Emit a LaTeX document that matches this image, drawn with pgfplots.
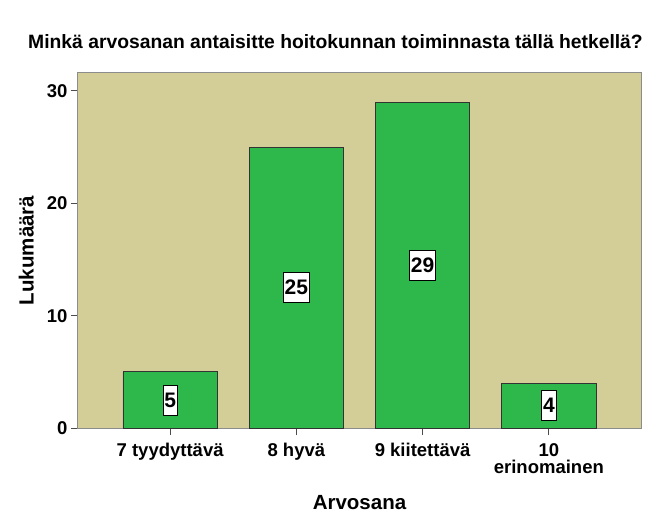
\documentclass[border=0pt]{standalone}
\usepackage{fontspec}
\setmainfont{Liberation Sans}
\usepackage{pgfplots}
\usepackage{pgfplotstable}
\pgfplotsset{compat=1.18}
\definecolor{bgtan}{RGB}{211,206,152}
\definecolor{bargreen}{RGB}{46,183,74}
\definecolor{framegray}{RGB}{140,140,140}

\pgfplotstableread{
x y
0 5
1 25
2 29
3 4
}\grades

\begin{document}
\begin{tikzpicture}
\begin{axis}[name=ax, scale only axis, width=563bp, height=355bp,
  xmin=-0.73, xmax=3.73, ymin=0, ymax=31.6,
  axis background/.style={fill=bgtan},
  axis line style={framegray, line width=1bp},
  xtick={0,1,2,3},
  xticklabels={7 tyydyttävä, 8 hyvä, 9 kiitettävä, {10\\erinomainen}},
  ytick={0,10,20,30},
  tick align=outside, tickpos=left, major tick length=7bp,
  tick style={black!70, line width=1bp},
  /pgf/number format/assume math mode=true,
  xticklabel style={align=center, yshift=-5bp, font=\bfseries\fontsize{18.5bp}{17bp}\selectfont},
  yticklabel style={font=\bfseries\fontsize{18.5bp}{18bp}\selectfont},
  xlabel={Arvosana}, ylabel={Lukumäärä},
  xlabel style={at={(axis description cs:0.5,-0.211)}, anchor=center, font=\bfseries\fontsize{20.5bp}{22bp}\selectfont},
  ylabel style={at={(axis description cs:-0.092,0.5)}, anchor=center, font=\bfseries\fontsize{20.5bp}{22bp}\selectfont},
]
\addplot[ybar, bar width=0.748, fill=bargreen, draw=black!80, line width=0.8bp] table[x=x, y=y] {\grades};
\addplot[draw=none, mark=none, nodes near coords, point meta=explicit,
  every node near coord/.style={fill=white, draw=black, line width=0.6bp, anchor=center, inner xsep=1.5bp, inner ysep=0bp, minimum height=30bp, font=\bfseries\fontsize{21bp}{21bp}\selectfont}]
  table[x=x, y expr=\thisrow{y}/2, meta=y] {\grades};
\end{axis}
\node[font=\bfseries\fontsize{19.3bp}{19bp}\selectfont] at ([xshift=-24bp,yshift=31bp]ax.north) {Minkä arvosanan antaisitte hoitokunnan toiminnasta tällä hetkellä?};
\pgfresetboundingbox
\path ([shift={(-78bp,-96bp)}]ax.south west) rectangle ([shift={(30bp,73bp)}]ax.north east);
\end{tikzpicture}
\end{document}
